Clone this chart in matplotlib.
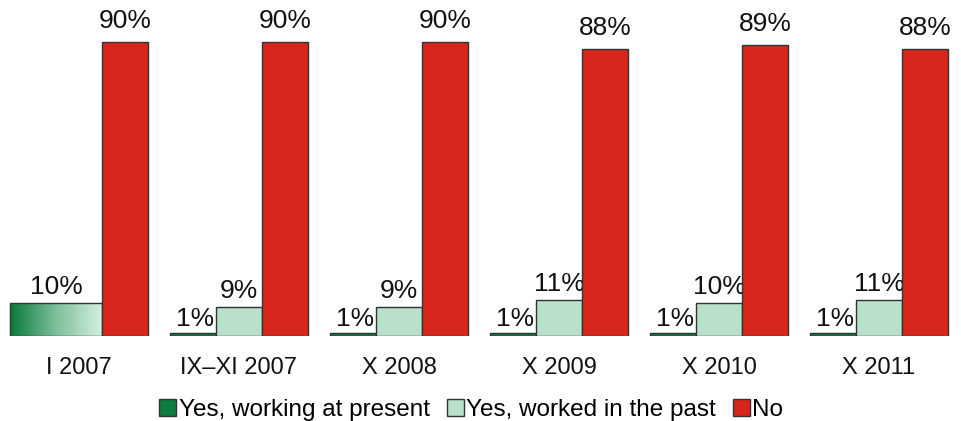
import numpy as np
import matplotlib.pyplot as plt
from matplotlib.colors import LinearSegmentedColormap
from matplotlib.patches import Patch

plt.rcParams['font.family'] = ['Liberation Sans', 'DejaVu Sans']

periods = ["I 2007", "IX\u2013XI 2007", "X 2008", "X 2009", "X 2010", "X 2011"]
working_now = [None, 1, 1, 1, 1, 1]
worked_past = [None, 9, 9, 11, 10, 11]
no_answer = [90, 90, 90, 88, 89, 88]
combined_first = 10  # I 2007: "yes" not split into present/past

c_dark = "#0b7b3f"
c_light = "#b8e0cb"
c_red = "#d9261c"
edge = "#333333"

fig = plt.figure(figsize=(9.62, 4.21), dpi=100)
ax = fig.add_axes([0, 85 / 421, 1, 336 / 421])

w = 1.0
pitch = 160 / 46
ax.set_xlim(-10 / 46, 952 / 46)
ax.set_ylim(0, 336 / (294 / 90))

lab_kw = dict(ha='center', va='bottom', fontsize=19, color='#111111')
off = 1.2

for i, name in enumerate(periods):
    x0 = i * pitch
    if working_now[i] is None:
        # gradient bar spanning two slots
        cmap = LinearSegmentedColormap.from_list('g', ["#0a7a3a", "#7cc09a", "#d4efe1"])
        grad = np.linspace(0, 1, 256).reshape(1, -1)
        ax.imshow(grad, cmap=cmap, aspect='auto', extent=(x0, x0 + 2 * w, 0, combined_first), zorder=2)
        ax.bar(x0, combined_first, width=2 * w, align='edge', facecolor='none', edgecolor=edge, lw=1, zorder=3)
        ax.text(x0 + w, combined_first + off, f"{combined_first}%", **lab_kw)
    else:
        ax.bar(x0, working_now[i], width=w, align='edge', color=c_dark, edgecolor=edge, lw=1, zorder=3)
        ax.bar(x0 + w, worked_past[i], width=w, align='edge', color=c_light, edgecolor=edge, lw=1, zorder=3)
        ax.text(x0 + w / 2 + 0.05, working_now[i] + 0.6, f"{working_now[i]}%", **lab_kw)
        ax.text(x0 + 1.5 * w, worked_past[i] + off, f"{worked_past[i]}%", **lab_kw)
    ax.bar(x0 + 2 * w, no_answer[i], width=w, align='edge', color=c_red, edgecolor=edge, lw=1, zorder=3)
    ax.text(x0 + 2.5 * w, no_answer[i] + off + 1.5, f"{no_answer[i]}%", **lab_kw)
    ax.text(x0 + 1.5 * w, -6.4, name, ha='center', va='top', fontsize=17, color='#111111')

ax.axis('off')

handles = [Patch(facecolor=c_dark, edgecolor=edge, label="Yes, working at present"),
           Patch(facecolor=c_light, edgecolor=edge, label="Yes, worked in the past"),
           Patch(facecolor=c_red, edgecolor=edge, label="No")]
fig.legend(handles=handles, loc='center', bbox_to_anchor=(0.49, 0.025), ncol=3, frameon=False,
           fontsize=17.5, handlelength=0.7, handleheight=0.7, handletextpad=0.1, columnspacing=0.7,
           borderpad=0)

fig.savefig("out.png", dpi=100)
